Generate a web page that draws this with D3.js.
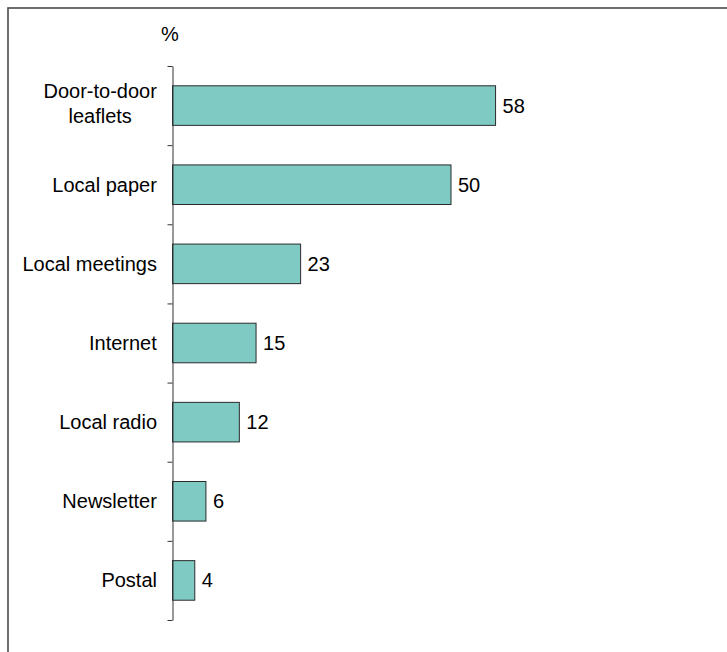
<!DOCTYPE html>
<html>
<head>
<meta charset="utf-8">
<script src="https://cdn.jsdelivr.net/npm/d3@7"></script>
<style>
  html, body { margin: 0; padding: 0; background: #fff; }
  svg { display: block; font-family: "Liberation Sans", Arial, sans-serif; }
</style>
</head>
<body>
<svg id="chart" width="727" height="652"></svg>
<script>
// Communication channels, share of respondents (%)
const categories = [
  ["Door-to-door", "leaflets"],
  ["Local paper"],
  ["Local meetings"],
  ["Internet"],
  ["Local radio"],
  ["Newsletter"],
  ["Postal"]
];
const values = [58, 50, 23, 15, 12, 6, 4];
const unitLabel = "%";

const svg = d3.select("#chart");
const fontSize = 20;

// Outer frame (extends past the right and bottom edges)
svg.append("rect")
  .attr("x", 8).attr("y", 8)
  .attr("width", 760).attr("height", 700)
  .attr("fill", "none")
  .attr("stroke", "#4a4a4a")
  .attr("stroke-width", 1.6);

const axisX = 172.5;
const plotTop = 66, plotBottom = 620;

const keys = categories.map((c, i) => i);
const y = d3.scaleBand()
  .domain(keys)
  .range([plotTop, plotBottom])
  .paddingInner(0.5)
  .paddingOuter(0.25);

const x = d3.scaleLinear()
  .domain([0, 60])
  .range([axisX, axisX + 60 * 5.57]);

// Bars
svg.append("g")
  .selectAll("rect")
  .data(values)
  .join("rect")
  .attr("x", x(0))
  .attr("y", (d, i) => y(i))
  .attr("width", d => x(d) - x(0))
  .attr("height", y.bandwidth())
  .attr("fill", "#7fcbc4")
  .attr("stroke", "#2b2b2b")
  .attr("stroke-width", 1);

// Category axis with ticks at band boundaries
const idx = d3.scaleLinear().domain([0, categories.length]).range([plotTop, plotBottom]);
const axis = svg.append("g")
  .attr("transform", `translate(${axisX},0)`)
  .call(d3.axisLeft(idx)
    .tickValues(d3.range(categories.length + 1))
    .tickFormat("")
    .tickSizeInner(5)
    .tickSizeOuter(0));
axis.select(".domain").attr("stroke", "#333");
axis.selectAll(".tick line").attr("stroke", "#333");

// Category labels (multi-line labels are centred on each other, block right-aligned)
const labelRight = 157;
const lineH = 25;
const labels = svg.append("g")
  .attr("font-size", fontSize)
  .attr("fill", "#000");
categories.forEach((lines, i) => {
  const cy = y(i) + y.bandwidth() / 2;
  const shift = lines.length > 1 ? -2 : 0;
  const t = labels.append("text")
    .attr("text-anchor", "middle");
  lines.forEach((ln, j) => {
    t.append("tspan")
      .attr("x", 0)
      .attr("y", cy + shift + (j - (lines.length - 1) / 2) * lineH)
      .attr("dy", "0.35em")
      .text(ln);
  });
  const w = t.node().getBBox().width;
  t.selectAll("tspan").attr("x", labelRight - w / 2);
});

// Value labels
svg.append("g")
  .attr("font-size", fontSize)
  .selectAll("text")
  .data(values)
  .join("text")
  .attr("x", d => x(d) + 7)
  .attr("y", (d, i) => y(i) + y.bandwidth() / 2)
  .attr("dy", "0.35em")
  .attr("fill", "#000")
  .text(d => d);

// Unit label above the axis
svg.append("text")
  .attr("x", 170)
  .attr("y", 40.5)
  .attr("text-anchor", "middle")
  .attr("font-size", fontSize)
  .attr("fill", "#000")
  .text(unitLabel);
</script>
</body>
</html>
